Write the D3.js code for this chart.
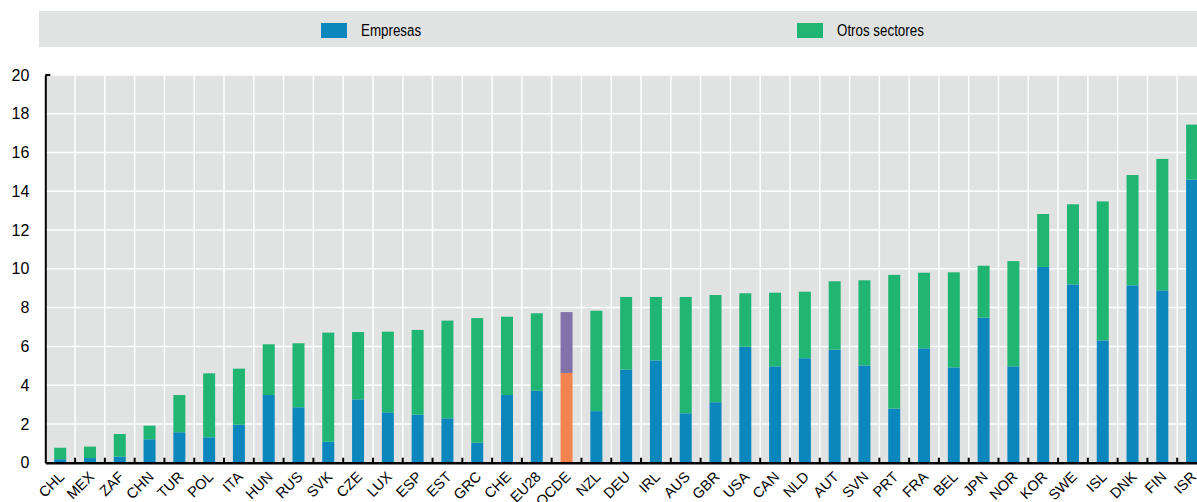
<!DOCTYPE html>
<html>
<head>
<meta charset="utf-8">
<script src="https://cdn.jsdelivr.net/npm/d3@7"></script>
<style>
  html, body { margin: 0; padding: 0; background: #ffffff; overflow: hidden; }
  svg { display: block; }
  .axis text { font-family: "Liberation Sans", Arial, sans-serif; fill: #000; }
  .legend text { font-family: "Liberation Sans", Arial, sans-serif; fill: #000; }
</style>
</head>
<body>
<script>
const categories = ["CHL","MEX","ZAF","CHN","TUR","POL","ITA","HUN","RUS","SVK","CZE","LUX","ESP","EST","GRC","CHE","EU28","OCDE","NZL","DEU","IRL","AUS","GBR","USA","CAN","NLD","AUT","SVN","PRT","FRA","BEL","JPN","NOR","KOR","SWE","ISL","DNK","FIN","ISR"];
const empresas = [0.18,0.24,0.31,1.21,1.57,1.31,1.96,3.49,2.86,1.08,3.27,2.60,2.48,2.29,1.03,3.49,3.71,4.63,2.66,4.80,5.28,2.55,3.12,5.98,4.97,5.39,5.83,5.02,2.79,5.90,4.92,7.48,4.97,10.10,9.20,6.31,9.15,8.89,14.60];
const otros = [0.59,0.59,1.17,0.70,1.92,3.30,2.89,2.62,3.30,5.63,3.47,4.16,4.37,5.04,6.43,4.04,4.00,3.14,5.18,3.75,3.27,6.00,5.53,2.76,3.80,3.43,3.53,4.39,6.90,3.90,4.90,2.68,5.43,2.73,4.13,7.17,5.69,6.78,2.84];
const seriesNames = ["Empresas", "Otros sectores"];
const highlighted = ["OCDE"];
const yTicks = [0,2,4,6,8,10,12,14,16,18,20];

(function () {
const W = 1197, H = 502;
const colors = { emp: "#0b87be", otr: "#20b573", empHi: "#f4844f", otrHi: "#8172a9" };

const svg = d3.select("body").append("svg").attr("width", W).attr("height", H);

const pLeft = 45.3, pRight = 1207, pTop = 75, pBottom = 462.7;
const x = d3.scaleBand().domain(categories).range([pLeft, pRight]).padding(0);
const y = d3.scaleLinear().domain([0, 20]).range([pBottom, pTop]);
const bw = 12;

// Legend
const lg = svg.append("g").attr("class", "legend");
lg.append("rect").attr("x", 39).attr("y", 11).attr("width", 1180).attr("height", 36).attr("fill", "#e1e2e2");
const legendItems = [
  { name: seriesNames[0], color: colors.emp, x: 321 },
  { name: seriesNames[1], color: colors.otr, x: 797 }
];
legendItems.forEach(d => {
  lg.append("rect").attr("x", d.x).attr("y", 23).attr("width", 26).attr("height", 15).attr("fill", d.color);
  lg.append("text").attr("transform", `translate(${d.x + 40},36) scale(0.81,1)`)
    .attr("font-size", 16.5).text(d.name);
});

// Plot background
svg.append("rect").attr("x", pLeft).attr("y", pTop).attr("width", pRight - pLeft).attr("height", pBottom - pTop).attr("fill", "#e1e2e2");

// Gridlines
const grid = svg.append("g");
grid.selectAll("line.h").data(yTicks.slice(1)).join("line")
  .attr("x1", pLeft).attr("x2", pRight)
  .attr("y1", d => y(d)).attr("y2", d => y(d))
  .attr("stroke", "#ffffff").attr("stroke-width", 1.5);
grid.selectAll("line.v").data(categories.slice(1)).join("line")
  .attr("x1", d => x(d)).attr("x2", d => x(d))
  .attr("y1", pTop).attr("y2", pBottom)
  .attr("stroke", "#ffffff").attr("stroke-width", 1.5);

// Bars
const bars = svg.append("g");
categories.forEach((c, i) => {
  const hi = highlighted.includes(c);
  const bx = x(c) + (x.bandwidth() - bw) / 2;
  bars.append("rect").attr("x", bx).attr("width", bw)
    .attr("y", y(empresas[i])).attr("height", y(0) - y(empresas[i]))
    .attr("fill", hi ? colors.empHi : colors.emp);
  bars.append("rect").attr("x", bx).attr("width", bw)
    .attr("y", y(empresas[i] + otros[i])).attr("height", y(empresas[i]) - y(empresas[i] + otros[i]))
    .attr("fill", hi ? colors.otrHi : colors.otr);
});

// Y axis
const yAxis = svg.append("g").attr("class", "axis").attr("transform", `translate(${pLeft},0)`)
  .call(d3.axisLeft(y).tickValues(yTicks).tickSize(0).tickSizeOuter(0).tickPadding(16));
yAxis.select(".domain").attr("stroke", "#000").attr("stroke-width", 2);
yAxis.selectAll("text").attr("font-size", 16);
svg.append("line").attr("x1", pLeft).attr("x2", pLeft + 5).attr("y1", pTop).attr("y2", pTop).attr("stroke", "#000").attr("stroke-width", 2);

// X axis
const xAxis = svg.append("g").attr("class", "axis").attr("transform", `translate(0,${pBottom})`)
  .call(d3.axisBottom(x).tickSize(0).tickSizeOuter(0).tickFormat(d => d));
xAxis.select(".domain").attr("stroke", "#000").attr("stroke-width", 2.5);
xAxis.selectAll(".tick text")
  .attr("font-size", 14.5)
  .attr("text-anchor", "end")
  .attr("x", 0).attr("y", 0).attr("dy", 0)
  .attr("transform", "translate(5,15) rotate(-45)");
// boundary ticks (pointing up)
svg.append("g").selectAll("line").data(categories.slice(1)).join("line")
  .attr("x1", d => x(d)).attr("x2", d => x(d))
  .attr("y1", pBottom - 5).attr("y2", pBottom)
  .attr("stroke", "#000").attr("stroke-width", 2);
})();
</script>
</body>
</html>
